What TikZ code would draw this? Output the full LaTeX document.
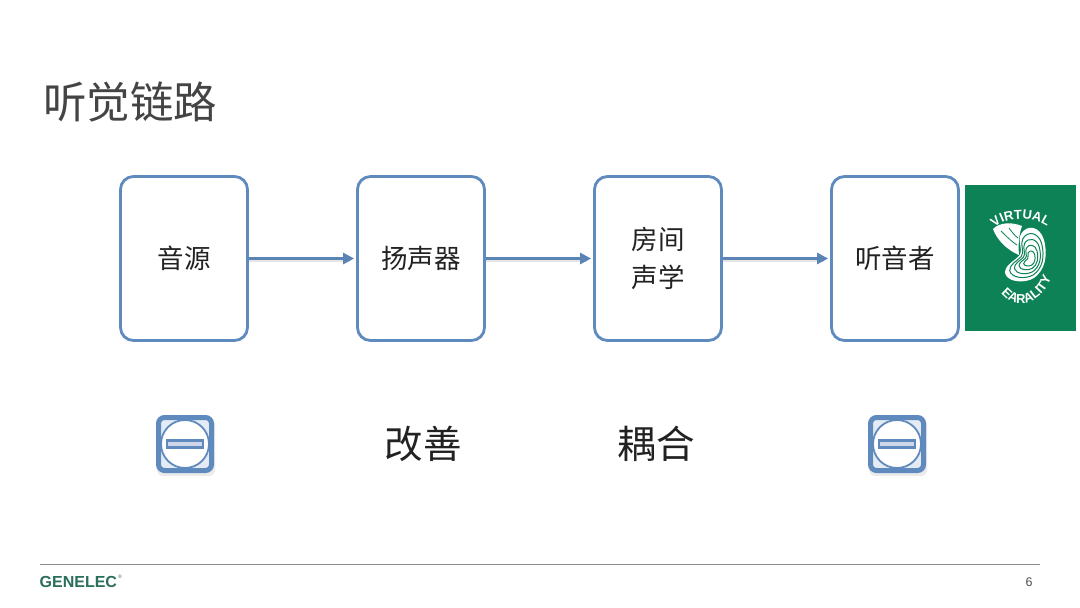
\documentclass[tikz,border=0pt]{standalone}
\usepackage{fontspec}
\setmainfont{Liberation Sans}
\newfontfamily\cjk{Noto Sans CJK SC}
\usetikzlibrary{arrows.meta,decorations.text}
\definecolor{boxblue}{HTML}{5F8ABD}
\definecolor{arrblue}{HTML}{5A84B6}
\definecolor{txt}{HTML}{222222}
\definecolor{ttl}{HTML}{444444}
\definecolor{gengreen}{HTML}{0E8257}
\definecolor{logotxt}{HTML}{2A6E5C}
\definecolor{paleblue}{HTML}{E4EBF5}
\definecolor{barfill}{HTML}{CFD6EA}
\tikzset{
 stagebox/.style={draw=boxblue,line width=2.8pt,rounded corners=13pt,fill=white,minimum width=127pt,minimum height=164pt,inner sep=0pt,text=txt,align=center,font=\cjk\fontsize{26.5}{38}\selectfont},
 flow/.style={draw=arrblue,line width=2.6pt,-{Triangle[length=11pt,width=11pt]},shorten >=2pt},
 flowshadow/.style={draw=black!10,line width=2.4pt},
 bigword/.style={font=\cjk\fontsize{38.5}{40}\selectfont,text=txt,inner sep=0pt},
 badge/.style={draw=boxblue,line width=5pt,rounded corners=6pt,fill=paleblue,minimum size=53pt,inner sep=0pt},
 eartext/.style={decoration={text along path,text align=center,text={|\bfseries\color{white}\fontsize{13}{13}\selectfont|#1}},decorate},
}
\newcommand{\earshape}{(1021,234) .. controls (1027,224) and (1040,226) .. (1044,240) .. controls (1048,256) and (1045,270) .. (1034,278)
   .. controls (1024,284) and (1007,282) .. (1005,273) .. controls (1005,265) and (1013,262) .. (1019,256) .. controls (1024,250) and (1017,242) .. (1021,234) -- cycle}
\begin{document}
\begin{tikzpicture}[x=1pt,y=-1pt]
\useasboundingbox (0,0) rectangle (1080,608);
\fill[white] (0,0) rectangle (1080,608);
% title
\node[anchor=west,inner sep=0pt,text=ttl,font=\cjk\fontsize{43.5}{46}\selectfont] (title) at (43,102) {听觉链路};
% boxes
\node[stagebox] (src) at (184,258.5) {音源};
\node[stagebox] (spk) at (421,258.5) {扬声器};
\node[stagebox] (room) at (658,258.5) {房间\\声学};
\node[stagebox] (lis) at (895,258.5) {听音者};
% arrows
\draw[flowshadow] ([yshift=-2pt]src.east) -- ([yshift=-2pt,xshift=-6pt]spk.west);
\draw[flowshadow] ([yshift=-2pt]spk.east) -- ([yshift=-2pt,xshift=-6pt]room.west);
\draw[flowshadow] ([yshift=-2pt]room.east) -- ([yshift=-2pt,xshift=-6pt]lis.west);
\draw[flow] (src) -- (spk);
\draw[flow] (spk) -- (room);
\draw[flow] (room) -- (lis);
% lower row
\node[bigword] (improve) at (423,444) {改善};
\node[bigword] (couple) at (656,444) {耦合};
\foreach \n/\x in {badgea/185,badgeb/897}{
 \fill[black!8,rounded corners=6pt] (\x-28,419) rectangle (\x+30,476);
 \node[badge] (\n) at (\x,444) {};
 \draw[boxblue,line width=1.8pt,fill=white] (\x,444) circle (24);
 \draw[boxblue,line width=2.4pt,fill=barfill] (\x-18,440.5) rectangle (\x+18,447.5);
}
% logo
\fill[gengreen] (965,185) rectangle (1076,331);
% wedge under VIRTUAL
\fill[white] (993,229) .. controls (1000,222) and (1012,222) .. (1022,226) .. controls (1019,234) and (1018,245) .. (1019,255)
   .. controls (1007,250) and (997,240) .. (993,229) -- cycle;
\draw[gengreen,line width=0.8pt] (1001,231) .. controls (1006,236) and (1012,242) .. (1017,245);
\draw[gengreen,line width=0.8pt] (1009,228) .. controls (1012,232) and (1015,236) .. (1018,238);
% ear
\fill[white] \earshape;
\foreach \s in {0.82,0.64,0.46,0.28}{
 \begin{scope}[shift={(1031,260)},scale=\s,shift={(-1031,-260)}]
  \draw[gengreen,line width=1pt] \earshape;
 \end{scope}
}
% curved lettering
\path[eartext={VIRTUAL}] (996,227) .. controls (1006,217) and (1030,216) .. (1046,226);
\path[eartext={EARALITY}] (995,278) .. controls (1000,312) and (1046,316) .. (1056,262);
% footer
\draw[black!45,line width=0.9pt] (40,564) coordinate (fa) -- (1040,564) coordinate (fb);
\node[anchor=west,inner sep=0pt,text=logotxt,font=\bfseries\fontsize{16}{20}\selectfont] (brand) at (39.5,582) {GENELEC};
\node[inner sep=0pt,text=logotxt,font=\fontsize{5}{5}\selectfont] (reg) at (120,577) {®};
\node[inner sep=0pt,text=black!70,font=\fontsize{12.5}{14}\selectfont] (page) at (1029,582.5) {6};
\end{tikzpicture}
\end{document}
